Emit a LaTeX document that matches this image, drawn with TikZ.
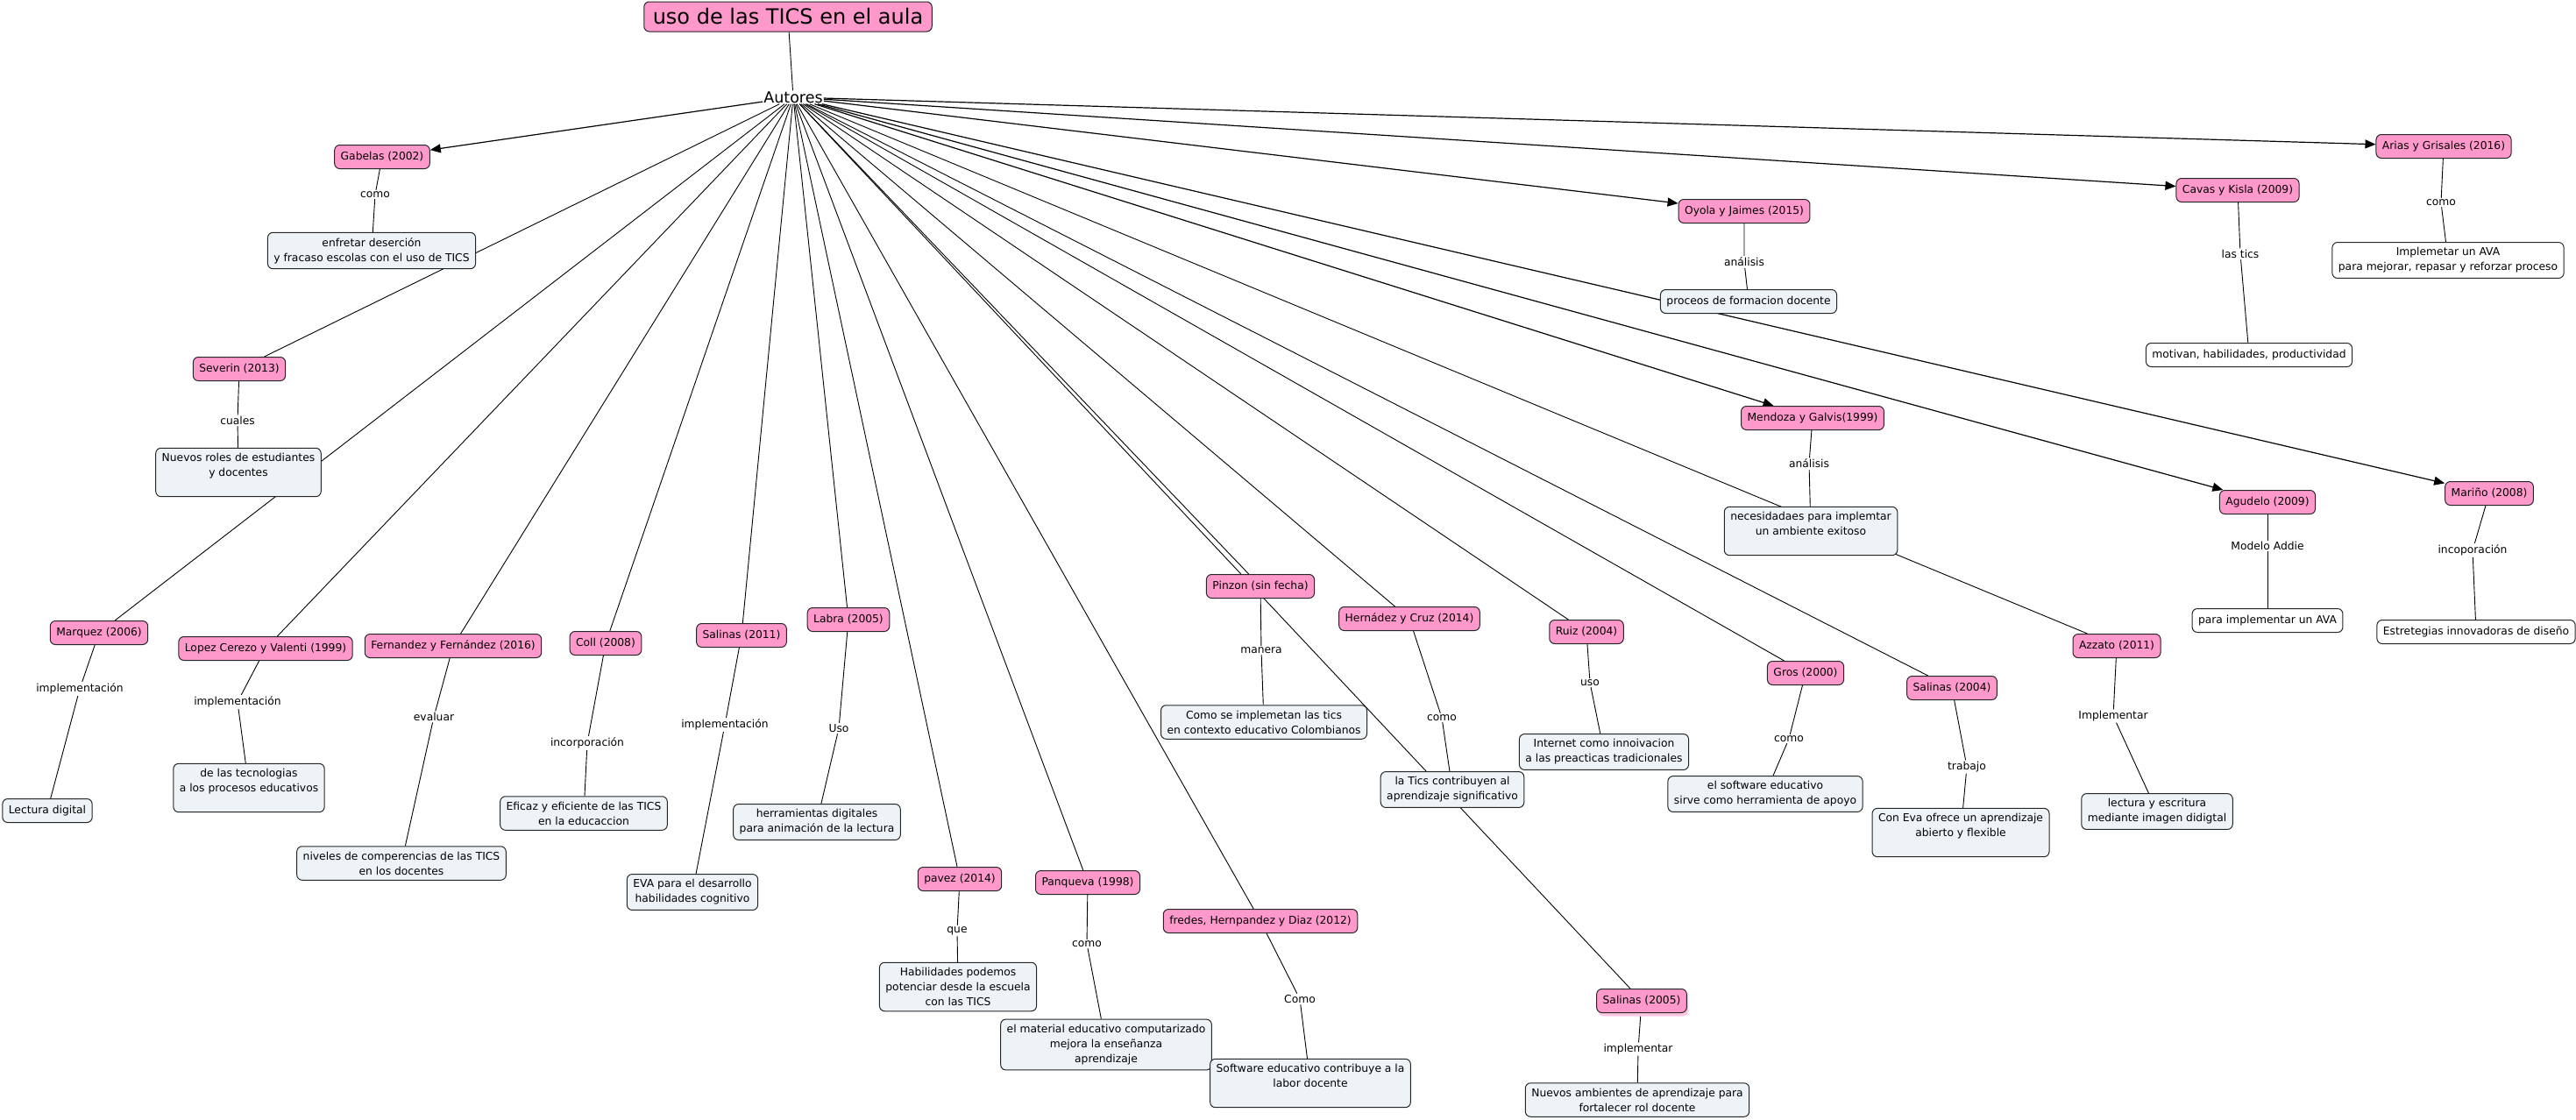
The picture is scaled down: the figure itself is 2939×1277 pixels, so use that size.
\documentclass[tikz,border=0pt]{standalone}
\usepackage{fontspec}
\setmainfont{DejaVu Sans}
\usetikzlibrary{arrows.meta,backgrounds,shadows}

\definecolor{rosa}{RGB}{255,153,204}
\definecolor{celeste}{RGB}{237,243,246}

\begin{document}
\begin{tikzpicture}[x=1pt,y=-1pt,
  font=\fontsize{12.3}{17}\selectfont,
  autor/.style={draw=black!85,line width=1pt,rounded corners=6pt,fill=rosa,
    minimum height=27pt,inner xsep=7pt,inner ysep=4pt,align=center},
  concepto/.style={draw=black!85,line width=1pt,rounded corners=6pt,fill=celeste,
    minimum height=27pt,inner xsep=7pt,inner ysep=6pt,align=center},
  blanco/.style={concepto,fill=white},
  enlace/.style={fill=white,inner sep=1.5pt},
  linea/.style={line width=0.9pt},
  flecha/.style={line width=1.2pt,-{Triangle[length=12pt,width=10pt]}}]

  \useasboundingbox (0,0) rectangle (2939,1277);

  % Title
  \node[autor,font=\fontsize{24}{28}\selectfont,minimum height=34pt,inner xsep=10pt]
    (tit) at (899,19) {uso de las TICS en el aula};
  \node[inner sep=1pt,font=\fontsize{17.5}{20}\selectfont] (aut) at (905,111) {Autores};

  % Left side
  \node[autor] (gab) at (436,179) {Gabelas (2002)};
  \node[enlace] (gabL) at (428,222) {como};
  \node[concepto] (gabC) at (424,286) {enfretar deserción\\y fracaso escolas con el uso de TICS};

  \node[autor] (sev) at (273,421) {Severin (2013)};
  \node[enlace] (sevL) at (271,480) {cuales};
  \node[concepto] (sevC) at (272,539) {Nuevos roles de estudiantes\\y docentes\\\mbox{}};

  \node[autor] (mar) at (113,722) {Marquez (2006)};
  \node[enlace] (marL) at (91,786) {implementación};
  \node[concepto] (marC) at (54,925) {Lectura digital};

  \node[autor] (lop) at (303,740) {Lopez Cerezo y Valenti (1999)};
  \node[enlace] (lopL) at (271,801) {implementación};
  \node[concepto] (lopC) at (284,899) {de las tecnologias\\a los procesos educativos\\\mbox{}};

  \node[autor] (fer) at (517,737) {Fernandez y Fernández (2016)};
  \node[enlace] (ferL) at (495,818) {evaluar};
  \node[concepto] (ferC) at (458,985) {niveles de comperencias de las TICS\\en los docentes};

  \node[autor] (col) at (691,734) {Coll (2008)};
  \node[enlace] (colL) at (670,848) {incorporación};
  \node[concepto] (colC) at (666,928) {Eficaz y eficiente de las TICS\\en la educaccion};

  \node[autor] (sa11) at (846,725) {Salinas (2011)};
  \node[enlace] (sa11L) at (827,827) {implementación};
  \node[concepto] (sa11C) at (790,1018) {EVA para el desarrollo\\habilidades cognitivo};

  \node[autor] (lab) at (968,707) {Labra (2005)};
  \node[enlace] (labL) at (957,831) {Uso};
  \node[concepto] (labC) at (932,938) {herramientas digitales\\para animación de la lectura};

  % Bottom
  \node[autor] (pav) at (1095,1003) {pavez (2014)};
  \node[enlace] (pavL) at (1092,1062) {que};
  \node[concepto] (pavC) at (1093,1126) {Habilidades podemos\\potenciar desde la escuela\\con las TICS};

  \node[autor] (pan) at (1241,1007) {Panqueva (1998)};
  \node[enlace] (panL) at (1240,1077) {como};
  \node[concepto] (panC) at (1262,1192) {el material educativo computarizado\\mejora la enseñanza\\aprendizaje};

  \node[autor] (fre) at (1438,1051) {fredes, Hernpandez y Diaz (2012)};
  \node[enlace] (freL) at (1483,1140) {Como};
  \node[concepto] (freC) at (1495,1236) {Software educativo contribuye a la\\labor docente\\\mbox{}};

  \node[autor] (pin) at (1438,669) {Pinzon (sin fecha)};
  \node[enlace] (pinL) at (1439,742) {manera};
  \node[concepto] (pinC) at (1442,824) {Como se implemetan las tics\\en contexto educativo Colombianos};

  \node[autor] (her) at (1608,706) {Hernádez y Cruz (2014)};
  \node[enlace] (herL) at (1645,819) {como};
  \node[concepto] (herC) at (1657,901) {la Tics contribuyen al\\aprendizaje significativo};

  \node[autor,drop shadow={shadow xshift=2pt,shadow yshift=-4pt,fill=rosa!55,opacity=1}]
    (sa05) at (1873,1142) {Salinas (2005)};
  \node[enlace] (sa05L) at (1869,1197) {implementar};
  \node[concepto] (sa05C) at (1868,1255) {Nuevos ambientes de aprendizaje para\\fortalecer rol docente};

  % Right side
  \node[autor] (rui) at (1810,721) {Ruiz (2004)};
  \node[enlace] (ruiL) at (1814,779) {uso};
  \node[concepto] (ruiC) at (1830,858) {Internet como innoivacion\\a las preacticas tradicionales};

  \node[autor] (gro) at (2060,768) {Gros (2000)};
  \node[enlace] (groL) at (2041,843) {como};
  \node[concepto] (groC) at (2014,906) {el software educativo\\sirve como herramienta de apoyo};

  \node[autor] (sa04) at (2227,785) {Salinas (2004)};
  \node[enlace] (sa04L) at (2244,875) {trabajo};
  \node[concepto] (sa04C) at (2237,950) {Con Eva ofrece un aprendizaje\\abierto y flexible\\\mbox{}};

  \node[autor] (azz) at (2415,737) {Azzato (2011)};
  \node[enlace] (azzL) at (2411,817) {Implementar};
  \node[concepto] (azzC) at (2461,926) {lectura y escritura\\mediante imagen didigtal};

  \node[autor] (men) at (2068,477) {Mendoza y Galvis(1999)};
  \node[enlace] (menL) at (2064,529) {análisis};
  \node[concepto] (menC) at (2066,606) {necesidadaes para implemtar\\un ambiente exitoso\\\mbox{}};

  \node[autor] (agu) at (2587,573) {Agudelo (2009)};
  \node[enlace] (aguL) at (2587,623) {Modelo Addie};
  \node[blanco] (aguC) at (2587,708) {para implementar un AVA};

  \node[autor] (mri) at (2840,563) {Mariño (2008)};
  \node[enlace] (mriL) at (2821,628) {incoporación};
  \node[blanco] (mriC) at (2825,721) {Estretegias innovadoras de diseño};

  \node[autor] (oyo) at (1990,241) {Oyola y Jaimes (2015)};
  \node[enlace] (oyoL) at (1990,299) {análisis};
  \node[concepto] (oyoC) at (1995,344) {proceos de formacion docente};

  \node[autor] (cav) at (2553,217) {Cavas y Kisla (2009)};
  \node[enlace] (cavL) at (2556,290) {las tics};
  \node[blanco] (cavC) at (2566,405) {motivan, habilidades, productividad};

  \node[autor] (ari) at (2788,167) {Arias y Grisales (2016)};
  \node[enlace] (ariL) at (2785,231) {como};
  \node[blanco] (ariC) at (2793,297) {Implemetar un AVA\\para mejorar, repasar y reforzar proceso};

  % Connectors
  \begin{scope}[on background layer]
    \draw[linea] (tit) -- (aut);
    \foreach \a in {sev,mar,lop,fer,col,sa11,lab,pav,pan,fre,pin,sa05,her,rui,gro,sa04,azz}
      \draw[linea] (aut) -- (\a);
    \foreach \a in {gab,men,agu,mri,oyo,cav,ari}
      \draw[flecha] (aut) -- (\a);
    \foreach \a in {gab,sev,mar,lop,fer,col,sa11,lab,pav,pan,fre,pin,her,sa05,rui,gro,sa04,azz,men,agu,mri,oyo,cav,ari}
      \draw[linea] (\a) -- (\a L) -- (\a C);
  \end{scope}

\end{tikzpicture}
\end{document}
